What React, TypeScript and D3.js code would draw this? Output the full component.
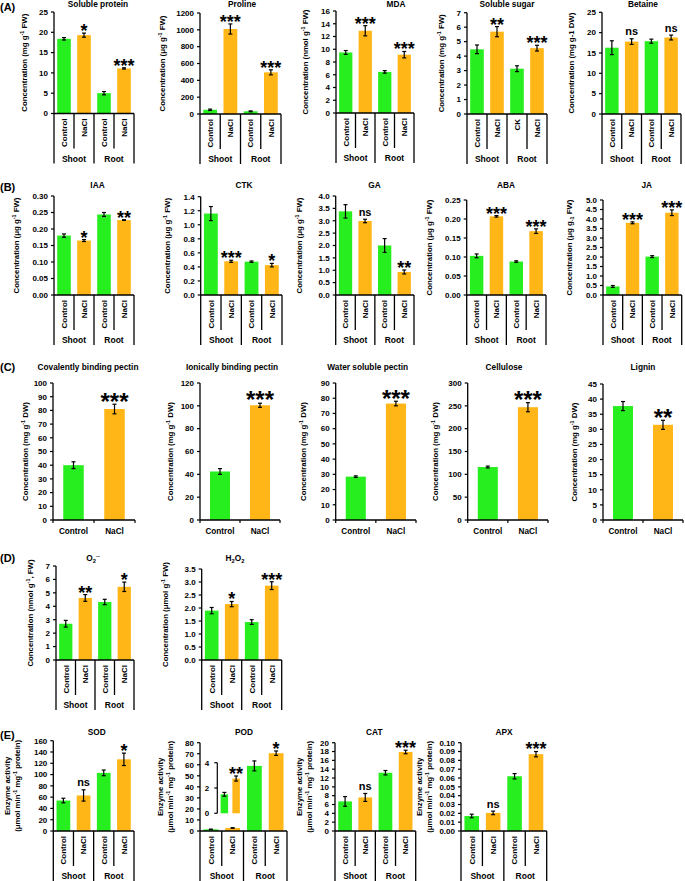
import React from "react";
import * as d3 from "d3";

const GREEN = "#27ee1f";
const ORANGE = "#ffb616";
const FONT = "'Liberation Sans', Arial, Helvetica, sans-serif";

// ---------- categories ----------
const catsShootRoot = ["Control", "NaCl", "Control", "NaCl"];
const catsSugar = ["Control", "NaCl", "CK", "NaCl"];
const catsTwo = ["Control", "NaCl"];
const groupsShootRoot = ["Shoot", "Root"];

// ---------- (A) ----------
const proteinMean = [18.4, 19.3, 5.0, 11.1];
const proteinErr = [0.3, 0.5, 0.4, 0.15];
const proteinSig = ["", "*", "", "***"];
const prolineMean = [50, 1010, 32, 495];
const prolineErr = [8, 60, 5, 30];
const prolineSig = ["", "***", "", "***"];
const mdaMean = [9.5, 12.9, 6.45, 9.15];
const mdaErr = [0.3, 0.8, 0.2, 0.5];
const mdaSig = ["", "***", "", "***"];
const sugarMean = [4.47, 5.69, 3.13, 4.55];
const sugarErr = [0.3, 0.35, 0.2, 0.2];
const sugarSig = ["", "**", "", "***"];
const betaineMean = [16.3, 17.8, 17.9, 18.8];
const betaineErr = [1.7, 0.7, 0.5, 0.6];
const betaineSig = ["", "ns", "", "ns"];

// ---------- (B) ----------
const iaaMean = [0.18, 0.165, 0.244, 0.227];
const iaaErr = [0.005, 0.003, 0.006, 0.001];
const iaaSig = ["", "*", "", "**"];
const ctkMean = [1.16, 0.48, 0.475, 0.425];
const ctkErr = [0.1, 0.015, 0.01, 0.025];
const ctkSig = ["", "***", "", "*"];
const gaMean = [3.38, 2.99, 2.0, 0.93];
const gaErr = [0.27, 0.07, 0.28, 0.08];
const gaSig = ["", "ns", "", "**"];
const abaMean = [0.103, 0.207, 0.088, 0.168];
const abaErr = [0.005, 0.002, 0.002, 0.006];
const abaSig = ["", "***", "", "***"];
const jaMean = [0.45, 3.8, 2.02, 4.33];
const jaErr = [0.05, 0.05, 0.05, 0.15];
const jaSig = ["", "***", "", "***"];

// ---------- (C) ----------
const covalentMean = [40, 81];
const covalentErr = [2.5, 3.5];
const covalentSig = ["", "***"];
const ionicMean = [42.5, 100.5];
const ionicErr = [2.5, 1.8];
const ionicSig = ["", "***"];
const waterMean = [28.5, 76.5];
const waterErr = [0.5, 1.5];
const waterSig = ["", "***"];
const celluloseMean = [116, 247];
const celluloseErr = [2, 10];
const celluloseSig = ["", "***"];
const ligninMean = [37.7, 31.5];
const ligninErr = [1.5, 1.5];
const ligninSig = ["", "**"];

// ---------- (D) ----------
const o2Mean = [2.7, 4.62, 4.32, 5.45];
const o2Err = [0.25, 0.25, 0.2, 0.35];
const o2Sig = ["", "**", "", "*"];
const h2o2Mean = [1.9, 2.15, 1.46, 2.86];
const h2o2Err = [0.12, 0.1, 0.09, 0.15];
const h2o2Sig = ["", "*", "", "***"];

// ---------- (E) ----------
const sodMean = [54, 63, 103, 127];
const sodErr = [4, 10, 5, 11];
const sodSig = ["", "ns", "", "*"];
const podMean = [1.5, 2.75, 59, 70.5];
const podErr = [0.15, 0.2, 4.5, 2];
const podSig = ["", "", "", "*"];
const podInsetSig = ["", "**"];
const catMean = [6.7, 7.6, 13.2, 17.9];
const catErr = [1.1, 0.9, 0.5, 0.4];
const catSig = ["", "ns", "", "***"];
const apxMean = [0.017, 0.0205, 0.062, 0.087];
const apxErr = [0.002, 0.002, 0.003, 0.003];
const apxSig = ["", "ns", "", "***"];

// ---------- tick values ----------
const ticksProtein = [0, 5, 10, 15, 20, 25];
const ticksProline = [0, 200, 400, 600, 800, 1000, 1200];
const ticksMda = [0, 2, 4, 6, 8, 10, 12, 14, 16];
const ticksSugar = [0, 1, 2, 3, 4, 5, 6, 7];
const ticksBetaine = [0, 5, 10, 15, 20, 25];
const ticksIaa = [0, 0.05, 0.1, 0.15, 0.2, 0.25, 0.3];
const ticksCtk = [0, 0.2, 0.4, 0.6, 0.8, 1.0, 1.2, 1.4];
const ticksGa = [0, 0.5, 1, 1.5, 2, 2.5, 3, 3.5, 4];
const ticksAba = [0, 0.05, 0.1, 0.15, 0.2, 0.25];
const ticksJa = [0, 0.5, 1, 1.5, 2, 2.5, 3, 3.5, 4, 4.5, 5];
const ticksCovalent = [0, 10, 20, 30, 40, 50, 60, 70, 80, 90, 100];
const ticksIonic = [0, 20, 40, 60, 80, 100, 120];
const ticksWater = [0, 10, 20, 30, 40, 50, 60, 70, 80, 90];
const ticksCellulose = [0, 50, 100, 150, 200, 250, 300];
const ticksLignin = [0, 5, 10, 15, 20, 25, 30, 35, 40, 45];
const ticksO2 = [0, 1, 2, 3, 4, 5, 6, 7];
const ticksH2o2 = [0, 0.5, 1, 1.5, 2, 2.5, 3, 3.5];
const ticksSod = [0, 20, 40, 60, 80, 100, 120, 140, 160];
const ticksPod = [0, 10, 20, 30, 40, 50, 60, 70, 80];
const ticksPodInset = [0, 2, 4];
const ticksCat = [0, 2, 4, 6, 8, 10, 12, 14, 16, 18, 20];
const ticksApx = [0, 0.01, 0.02, 0.03, 0.04, 0.05, 0.06, 0.07, 0.08, 0.09, 0.1];

type Seg = { t: string; s?: "sup" | "sub" };
const plain = (t: string): Seg[] => [{ t }];
const conc = (pre: string, unit: string, post: string, kind: "sup" | "sub" = "sup"): Seg[] => [
  { t: `Concentration (${pre} ${unit}` },
  { t: "-1", s: kind },
  { t: post },
];

const f0 = d3.format("d");
const f1 = d3.format(".1f");
const f2 = d3.format(".2f");

type Panel = {
  axisX: number; right: number; top: number; zero: number;
  ticks: number[]; fmt: (v: number) => string;
  means: number[]; errs: number[]; sigs: string[]; cats: string[]; groups?: string[];
  title: Seg[]; titleX: number; titleY: number;
  ylabel: Seg[][]; ylo: number[]; starSize: number;
};

const spans = (segs: Seg[], fs: number) => {
  let cur = 0;
  return segs.map((sg, i) => {
    const target = sg.s === "sup" ? -fs * 0.38 : sg.s === "sub" ? fs * 0.25 : 0;
    const dy = target - cur;
    cur = target;
    return (
      <tspan key={i} dy={dy} fontSize={sg.s ? fs * 0.7 : fs}>
        {sg.t}
      </tspan>
    );
  });
};

const enzymeLabel: Seg[][] = [
  plain("Enzyme activity"),
  [{ t: "(μmol min" }, { t: "-1", s: "sup" }, { t: " mg" }, { t: "-1", s: "sup" }, { t: " protein)" }],
];

const panels: Panel[] = [
  // Row A
  { axisX: 54, right: 134, top: 12, zero: 113.5, ticks: ticksProtein, fmt: f0, means: proteinMean, errs: proteinErr, sigs: proteinSig, cats: catsShootRoot, groups: groupsShootRoot, title: plain("Soluble protein"), titleX: 98, titleY: 6.5, ylabel: [conc("mg", "g", " FW)")], ylo: [26.7], starSize: 18 },
  { axisX: 200, right: 281, top: 13, zero: 114, ticks: ticksProline, fmt: f0, means: prolineMean, errs: prolineErr, sigs: prolineSig, cats: catsShootRoot, groups: groupsShootRoot, title: plain("Proline"), titleX: 242, titleY: 6.5, ylabel: [conc("μg", "g", " FW)")], ylo: [35], starSize: 18 },
  { axisX: 336, right: 414, top: 11, zero: 113, ticks: ticksMda, fmt: f0, means: mdaMean, errs: mdaErr, sigs: mdaSig, cats: catsShootRoot, groups: groupsShootRoot, title: plain("MDA"), titleX: 396, titleY: 6.5, ylabel: [conc("nmol", "g", " FW)")], ylo: [27.7], starSize: 18 },
  { axisX: 467, right: 547, top: 12.7, zero: 114, ticks: ticksSugar, fmt: f0, means: sugarMean, errs: sugarErr, sigs: sugarSig, cats: catsSugar, groups: groupsShootRoot, title: plain("Soluble sugar"), titleX: 507, titleY: 6.5, ylabel: [conc("mg", "g", " FW)")], ylo: [23.4], starSize: 18 },
  { axisX: 602, right: 681, top: 12.3, zero: 114, ticks: ticksBetaine, fmt: f0, means: betaineMean, errs: betaineErr, sigs: betaineSig, cats: catsShootRoot, groups: groupsShootRoot, title: plain("Betaine"), titleX: 643, titleY: 6.5, ylabel: [plain("Concentration (mg g-1 DW)")], ylo: [27.7], starSize: 18 },
  // Row B
  { axisX: 54, right: 134, top: 196, zero: 295, ticks: ticksIaa, fmt: f2, means: iaaMean, errs: iaaErr, sigs: iaaSig, cats: catsShootRoot, groups: groupsShootRoot, title: plain("IAA"), titleX: 97.5, titleY: 188, ylabel: [conc("μg", "g", " FW)")], ylo: [35], starSize: 18 },
  { axisX: 200.7, right: 282, top: 196.7, zero: 295, ticks: ticksCtk, fmt: f1, means: ctkMean, errs: ctkErr, sigs: ctkSig, cats: catsShootRoot, groups: groupsShootRoot, title: plain("CTK"), titleX: 244, titleY: 188, ylabel: [conc("μg", "g", " FW)")], ylo: [30.7], starSize: 18 },
  { axisX: 335.7, right: 414, top: 196, zero: 295, ticks: ticksGa, fmt: f1, means: gaMean, errs: gaErr, sigs: gaSig, cats: catsShootRoot, groups: groupsShootRoot, title: plain("GA"), titleX: 374.5, titleY: 188, ylabel: [conc("μg", "g", " FW)")], ylo: [33.4], starSize: 18 },
  { axisX: 466.7, right: 546, top: 200, zero: 295, ticks: ticksAba, fmt: f2, means: abaMean, errs: abaErr, sigs: abaSig, cats: catsShootRoot, groups: groupsShootRoot, title: plain("ABA"), titleX: 506, titleY: 188, ylabel: [conc("μg", "g", " FW)")], ylo: [35], starSize: 18 },
  { axisX: 603, right: 681.7, top: 200, zero: 295, ticks: ticksJa, fmt: f1, means: jaMean, errs: jaErr, sigs: jaSig, cats: catsShootRoot, groups: groupsShootRoot, title: plain("JA"), titleX: 646.7, titleY: 188, ylabel: [[{ t: "Concentration (μg g" }, { t: "-1", s: "sub" }, { t: " FW)" }]], ylo: [31.3], starSize: 18 },
  // Row C
  { axisX: 53, right: 135, top: 383, zero: 520, ticks: ticksCovalent, fmt: f0, means: covalentMean, errs: covalentErr, sigs: covalentSig, cats: catsTwo, title: plain("Covalently binding pectin"), titleX: 88, titleY: 370, ylabel: [conc("mg", "g", " DW)")], ylo: [24.7], starSize: 24 },
  { axisX: 200, right: 280, top: 383, zero: 520, ticks: ticksIonic, fmt: f0, means: ionicMean, errs: ionicErr, sigs: ionicSig, cats: catsTwo, title: plain("Ionically binding pectin"), titleX: 232, titleY: 370, ylabel: [conc("mg", "g", " DW)")], ylo: [26.7], starSize: 24 },
  { axisX: 335.7, right: 416, top: 383, zero: 520, ticks: ticksWater, fmt: f0, means: waterMean, errs: waterErr, sigs: waterSig, cats: catsTwo, title: plain("Water soluble pectin"), titleX: 367.7, titleY: 370, ylabel: [conc("mg", "g", " DW)")], ylo: [29.7], starSize: 24 },
  { axisX: 467.7, right: 548, top: 383, zero: 520, ticks: ticksCellulose, fmt: f0, means: celluloseMean, errs: celluloseErr, sigs: celluloseSig, cats: catsTwo, title: plain("Cellulose"), titleX: 504, titleY: 370, ylabel: [conc("mg", "g", " DW)")], ylo: [29.4], starSize: 24 },
  { axisX: 603, right: 683, top: 384, zero: 520, ticks: ticksLignin, fmt: f0, means: ligninMean, errs: ligninErr, sigs: ligninSig, cats: catsTwo, title: plain("Lignin"), titleX: 643, titleY: 370, ylabel: [conc("mg", "g", " DW)")], ylo: [25.7], starSize: 24 },
  // Row D
  { axisX: 56, right: 134, top: 566, zero: 660, ticks: ticksO2, fmt: f0, means: o2Mean, errs: o2Err, sigs: o2Sig, cats: catsShootRoot, groups: groupsShootRoot, title: [{ t: "O" }, { t: "2", s: "sub" }, { t: "·-", s: "sup" }], titleX: 93, titleY: 561, ylabel: [conc("nmol", "g", ", FW)")], ylo: [22.7], starSize: 18 },
  { axisX: 201.7, right: 281.7, top: 569, zero: 660, ticks: ticksH2o2, fmt: f1, means: h2o2Mean, errs: h2o2Err, sigs: h2o2Sig, cats: catsShootRoot, groups: groupsShootRoot, title: [{ t: "H" }, { t: "2", s: "sub" }, { t: "O" }, { t: "2", s: "sub" }], titleX: 235, titleY: 561, ylabel: [conc("μmol", "g", " FW)")], ylo: [33.4], starSize: 18 },
  // Row E
  { axisX: 53.3, right: 134, top: 740.7, zero: 831, ticks: ticksSod, fmt: f0, means: sodMean, errs: sodErr, sigs: sodSig, cats: catsShootRoot, groups: groupsShootRoot, title: plain("SOD"), titleX: 96.7, titleY: 734.7, ylabel: enzymeLabel, ylo: [43.3, 33.3], starSize: 18 },
  { axisX: 200, right: 287, top: 742.7, zero: 831, ticks: ticksPod, fmt: f0, means: podMean, errs: podErr, sigs: podSig, cats: catsShootRoot, groups: groupsShootRoot, title: plain("POD"), titleX: 244, titleY: 734.7, ylabel: enzymeLabel, ylo: [36.7, 26.7], starSize: 18 },
  { axisX: 335, right: 415.7, top: 742.7, zero: 831, ticks: ticksCat, fmt: f0, means: catMean, errs: catErr, sigs: catSig, cats: catsShootRoot, groups: groupsShootRoot, title: plain("CAT"), titleX: 374.3, titleY: 734.7, ylabel: enzymeLabel, ylo: [33.3, 23.3], starSize: 18 },
  { axisX: 461, right: 546.7, top: 742.7, zero: 831, ticks: ticksApx, fmt: f2, means: apxMean, errs: apxErr, sigs: apxSig, cats: catsShootRoot, groups: groupsShootRoot, title: plain("APX"), titleX: 504, titleY: 734.7, ylabel: enzymeLabel, ylo: [39.3, 29.3], starSize: 18 },
];

const panelLetters = [
  { t: "(A)", y: 10.5 },
  { t: "(B)", y: 190.5 },
  { t: "(C)", y: 370.5 },
  { t: "(D)", y: 562 },
  { t: "(E)", y: 739 },
];

const barColors = [GREEN, ORANGE];

function Sig({ s, x, yTop, starSize }: { s: string; x: number; yTop: number; starSize: number }) {
  if (!s) return null;
  if (s === "ns") {
    return (
      <text x={x} y={yTop - 3.5} textAnchor="middle" fontSize={11} fontWeight="bold" fontFamily={FONT}>
        ns
      </text>
    );
  }
  return (
    <text x={x} y={yTop + starSize * 0.22} textAnchor="middle" fontSize={starSize} fontWeight="bold" fontFamily={FONT}>
      {s}
    </text>
  );
}

function BarPanel({ p }: { p: Panel }) {
  const n = p.means.length;
  const x = d3.scaleBand<number>().domain(d3.range(n)).range([p.axisX, p.right]);
  const y = d3.scaleLinear().domain([0, p.ticks[p.ticks.length - 1]]).range([p.zero, p.top]);
  const four = n === 4;
  const bw = x.bandwidth() * (four ? 0.68 : 0.5);
  const boxBottom = four ? p.zero + 50 : p.zero;
  const midY = (p.top + p.zero) / 2;
  return (
    <g fontFamily={FONT} fontWeight="bold">
      {/* bars */}
      {p.means.map((m, i) => {
        const cx = (x(i) as number) + x.bandwidth() / 2;
        return (
          <rect key={"b" + i} x={cx - bw / 2} y={y(m)} width={bw} height={p.zero - y(m)} fill={barColors[i % 2]} />
        );
      })}
      {/* error bars */}
      {p.means.map((m, i) => {
        const cx = (x(i) as number) + x.bandwidth() / 2;
        const y1 = y(m + p.errs[i]);
        const y0 = y(Math.max(0, m - p.errs[i]));
        return (
          <g key={"e" + i} stroke="#000" strokeWidth={1.2}>
            <line x1={cx} x2={cx} y1={y0} y2={y1} />
            <line x1={cx - 2} x2={cx + 2} y1={y0} y2={y0} />
            <line x1={cx - 2} x2={cx + 2} y1={y1} y2={y1} />
          </g>
        );
      })}
      {/* significance */}
      {p.sigs.map((s, i) => (
        <Sig key={"s" + i} s={s} x={(x(i) as number) + x.bandwidth() / 2} yTop={y(p.means[i] + p.errs[i])} starSize={p.starSize} />
      ))}
      {/* y axis */}
      <line x1={p.axisX} x2={p.axisX} y1={p.top} y2={boxBottom} stroke="#000" strokeWidth={1.3} />
      {p.ticks.map((t) => (
        <g key={"t" + t}>
          <line x1={p.axisX - 3} x2={p.axisX} y1={y(t)} y2={y(t)} stroke="#000" strokeWidth={1.2} />
          <text x={p.axisX - 6} y={y(t)} dy="0.35em" textAnchor="end" fontSize={8}>
            {p.fmt(t)}
          </text>
        </g>
      ))}
      {/* x axis */}
      <line x1={p.axisX} x2={p.right} y1={p.zero} y2={p.zero} stroke="#000" strokeWidth={1.3} />
      {four ? (
        <g>
          {[1, 2, 3, 4].map((k) => {
            const xx = k === 4 ? p.right : (x(k) as number);
            const full = k % 2 === 0;
            return (
              <line key={"sep" + k} x1={xx} x2={xx} y1={p.zero} y2={full ? boxBottom : p.zero + 35} stroke="#000" strokeWidth={1.3} />
            );
          })}
          {p.cats.map((c, i) => {
            const cx = (x(i) as number) + x.bandwidth() / 2;
            return (
              <text key={"c" + i} transform={`translate(${cx},${p.zero + 5}) rotate(-90)`} dy="0.35em" textAnchor="end" fontSize={8}>
                {c}
              </text>
            );
          })}
          {(p.groups || []).map((g, gi) => {
            const gx = ((x(gi * 2) as number) + (gi === 1 ? p.right : (x(2) as number))) / 2;
            return (
              <text key={"g" + gi} x={gx} y={p.zero + 48} textAnchor="middle" fontSize={8.5}>
                {g}
              </text>
            );
          })}
        </g>
      ) : (
        <g>
          {[p.axisX, (p.axisX + p.right) / 2, p.right].map((xx, k) => (
            <line key={"xt" + k} x1={xx} x2={xx} y1={p.zero} y2={p.zero + 3} stroke="#000" strokeWidth={1.2} />
          ))}
          {p.cats.map((c, i) => (
            <text key={"c" + i} x={(x(i) as number) + x.bandwidth() / 2} y={p.zero + 13.5} textAnchor="middle" fontSize={8.2}>
              {c}
            </text>
          ))}
        </g>
      )}
      {/* title */}
      <text x={p.titleX} y={p.titleY} textAnchor="middle" fontSize={8.3}>
        {spans(p.title, 8.3)}
      </text>
      {/* y label */}
      {p.ylabel.map((segs, li) => (
        <text
          key={"yl" + li}
          transform={`translate(${p.axisX - p.ylo[li]},${midY}) rotate(-90)`}
          dy="0.35em"
          textAnchor="middle"
          fontSize={7.8}
        >
          {spans(segs, 7.8)}
        </text>
      ))}
    </g>
  );
}

function PodInset() {
  const axisX = 217.3;
  const y = d3.scaleLinear().domain([0, 4]).range([813.3, 762.7]);
  const x = d3.scaleBand<number>().domain([0, 1]).range([218.5, 242]);
  const bw = 7.5;
  const means = podMean.slice(0, 2);
  const errs = podErr.slice(0, 2);
  return (
    <g fontFamily={FONT} fontWeight="bold">
      {means.map((m, i) => {
        const cx = (x(i) as number) + x.bandwidth() / 2;
        return <rect key={"ib" + i} x={cx - bw / 2} y={y(m)} width={bw} height={y(0) - y(m)} fill={barColors[i]} />;
      })}
      {means.map((m, i) => {
        const cx = (x(i) as number) + x.bandwidth() / 2;
        const y1 = y(m + errs[i]);
        const y0 = y(m - errs[i]);
        return (
          <g key={"ie" + i} stroke="#000" strokeWidth={1.2}>
            <line x1={cx} x2={cx} y1={y0} y2={y1} />
            <line x1={cx - 2} x2={cx + 2} y1={y0} y2={y0} />
            <line x1={cx - 2} x2={cx + 2} y1={y1} y2={y1} />
          </g>
        );
      })}
      {podInsetSig.map((s, i) => (
        <Sig key={"is" + i} s={s} x={(x(i) as number) + x.bandwidth() / 2} yTop={y(means[i] + errs[i])} starSize={18} />
      ))}
      <line x1={axisX} x2={axisX} y1={y(4)} y2={y(0)} stroke="#000" strokeWidth={1.2} />
      {ticksPodInset.map((t) => (
        <g key={"it" + t}>
          <line x1={axisX - 3} x2={axisX} y1={y(t)} y2={y(t)} stroke="#000" strokeWidth={1.2} />
          <text x={axisX - 8} y={y(t)} dy="0.35em" textAnchor="end" fontSize={8}>
            {t}
          </text>
        </g>
      ))}
    </g>
  );
}

export default function App() {
  return (
    <svg
      width={685}
      height={881}
      viewBox="0 0 685 881"
      style={{ position: "absolute", left: 0, top: 0, background: "#fff" }}
    >
      <rect width={685} height={881} fill="#fff" />
      {panels.map((p, i) => (
        <BarPanel key={i} p={p} />
      ))}
      <PodInset />
      {panelLetters.map((l) => (
        <text key={l.t} x={0} y={l.y} fontSize={11} fontWeight="bold" fontFamily={FONT}>
          {l.t}
        </text>
      ))}
    </svg>
  );
}
